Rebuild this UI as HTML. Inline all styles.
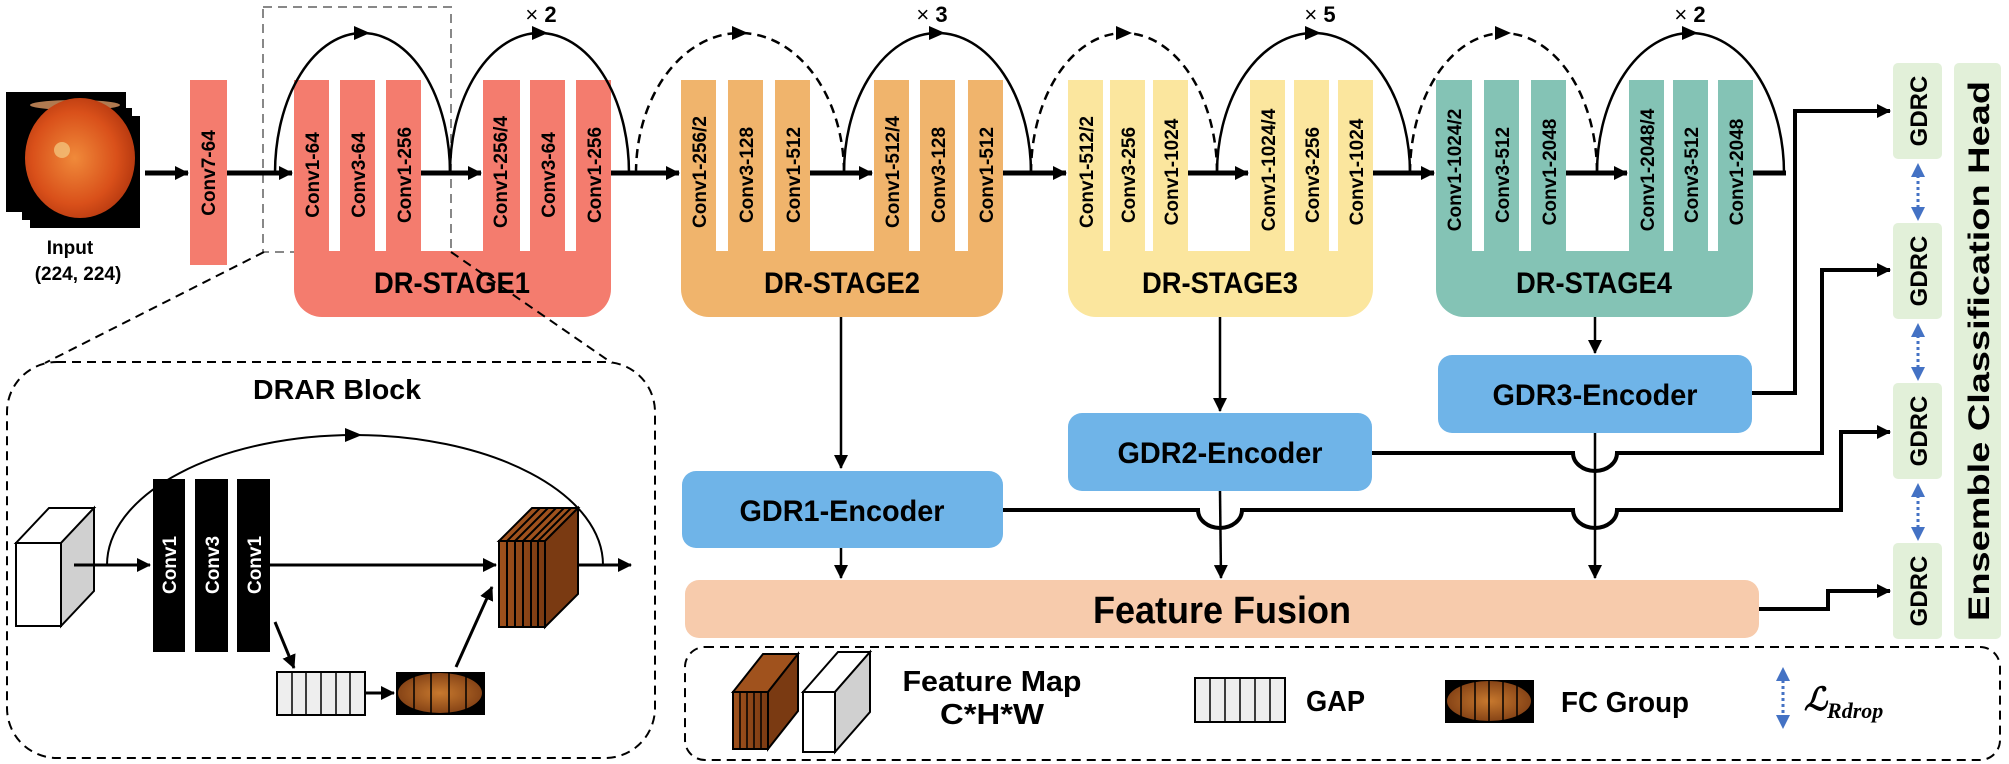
<!DOCTYPE html>
<html><head><meta charset="utf-8"><style>
html,body{margin:0;padding:0;background:#fff;}
svg{display:block;}
text{font-family:"Liberation Sans",sans-serif;font-weight:bold;fill:#000;}
</style></head><body>
<svg width="2009" height="764" viewBox="0 0 2009 764" xmlns="http://www.w3.org/2000/svg">
<defs>
<marker id="ahb" markerWidth="14" markerHeight="14" refX="13" refY="7" orient="auto" markerUnits="userSpaceOnUse" viewBox="0 0 14 14"><path d="M0,0 L14,7 L0,14z" fill="#000"/></marker>
<radialGradient id="eye" cx="0.45" cy="0.5" r="0.55"><stop offset="0" stop-color="#f08a3a"/><stop offset="0.7" stop-color="#d9501a"/><stop offset="1" stop-color="#b83a10"/></radialGradient>
<radialGradient id="eye2" cx="0.5" cy="0.5" r="0.6"><stop offset="0" stop-color="#c8792e"/><stop offset="1" stop-color="#7a3a12"/></radialGradient>
<linearGradient id="fm" x1="0" x2="1"><stop offset="0" stop-color="#a0521d"/><stop offset="1" stop-color="#7a3a12"/></linearGradient>
</defs>

<rect x="30" y="116" width="110" height="112" fill="#000"/>
<rect x="22" y="108" width="110" height="112" fill="#000"/>
<rect x="14" y="100" width="110" height="112" fill="#000"/>
<rect x="6" y="92" width="120" height="120" fill="#000"/>
<ellipse cx="75" cy="105" rx="45" ry="5" fill="#b07a50"/>
<ellipse cx="80" cy="158" rx="55" ry="60" fill="url(#eye)"/>
<circle cx="62" cy="150" r="8" fill="#f2c27a" opacity="0.8"/>
<text x="70" y="254" font-size="19" text-anchor="middle">Input</text>
<text x="78" y="280" font-size="19" text-anchor="middle">(224, 224)</text>

<rect x="263" y="7" width="188" height="245" fill="none" stroke="#888" stroke-width="2" stroke-dasharray="9,6"/>

<rect x="190" y="80" width="37" height="185" fill="#f47c6e"/>
<text transform="translate(209,173) rotate(-90)" dy="6" font-size="19" text-anchor="middle">Conv7-64</text>

<path d="M294,80 h35 v171 h11 v-171 h35 v171 h11 v-171 h35 v171 h62 v-171 h37 v171 h10 v-171 h35 v171 h11 v-171 h35 v209 a28,28 0 0 1 -28,28 h-261 a28,28 0 0 1 -28,-28z" fill="#f47c6e"/>
<path d="M681,80 h35 v171 h12 v-171 h35 v171 h12 v-171 h35 v171 h64 v-171 h35 v171 h11 v-171 h35 v171 h13 v-171 h35 v209 a28,28 0 0 1 -28,28 h-266 a28,28 0 0 1 -28,-28z" fill="#f0b46c"/>
<path d="M1068,80 h35 v171 h7 v-171 h35 v171 h8 v-171 h35 v171 h62 v-171 h35 v171 h9 v-171 h35 v171 h9 v-171 h35 v209 a28,28 0 0 1 -28,28 h-249 a28,28 0 0 1 -28,-28z" fill="#fbe69e"/>
<path d="M1436,80 h36 v171 h12 v-171 h35 v171 h12 v-171 h35 v171 h63 v-171 h35 v171 h9 v-171 h35 v171 h10 v-171 h35 v209 a28,28 0 0 1 -28,28 h-261 a28,28 0 0 1 -28,-28z" fill="#84c3b5"/>

<g font-size="19">
<text transform="translate(312,175) rotate(-90)" dy="7" text-anchor="middle">Conv1-64</text>
<text transform="translate(358,175) rotate(-90)" dy="7" text-anchor="middle">Conv3-64</text>
<text transform="translate(404,175) rotate(-90)" dy="7" text-anchor="middle">Conv1-256</text>
<text transform="translate(500,172) rotate(-90)" dy="7" text-anchor="middle">Conv1-256/4</text>
<text transform="translate(548,175) rotate(-90)" dy="7" text-anchor="middle">Conv3-64</text>
<text transform="translate(594,175) rotate(-90)" dy="7" text-anchor="middle">Conv1-256</text>

<text transform="translate(699,172) rotate(-90)" dy="7" text-anchor="middle">Conv1-256/2</text>
<text transform="translate(746,175) rotate(-90)" dy="7" text-anchor="middle">Conv3-128</text>
<text transform="translate(793,175) rotate(-90)" dy="7" text-anchor="middle">Conv1-512</text>
<text transform="translate(892,172) rotate(-90)" dy="7" text-anchor="middle">Conv1-512/4</text>
<text transform="translate(938,175) rotate(-90)" dy="7" text-anchor="middle">Conv3-128</text>
<text transform="translate(986,175) rotate(-90)" dy="7" text-anchor="middle">Conv1-512</text>

<text transform="translate(1086,172) rotate(-90)" dy="7" text-anchor="middle">Conv1-512/2</text>
<text transform="translate(1128,175) rotate(-90)" dy="7" text-anchor="middle">Conv3-256</text>
<text transform="translate(1171,172) rotate(-90)" dy="7" text-anchor="middle">Conv1-1024</text>
<text transform="translate(1268,170) rotate(-90)" dy="7" text-anchor="middle">Conv1-1024/4</text>
<text transform="translate(1312,175) rotate(-90)" dy="7" text-anchor="middle">Conv3-256</text>
<text transform="translate(1356,172) rotate(-90)" dy="7" text-anchor="middle">Conv1-1024</text>

<text transform="translate(1454,170) rotate(-90)" dy="7" text-anchor="middle">Conv1-1024/2</text>
<text transform="translate(1502,175) rotate(-90)" dy="7" text-anchor="middle">Conv3-512</text>
<text transform="translate(1549,172) rotate(-90)" dy="7" text-anchor="middle">Conv1-2048</text>
<text transform="translate(1647,170) rotate(-90)" dy="7" text-anchor="middle">Conv1-2048/4</text>
<text transform="translate(1691,175) rotate(-90)" dy="7" text-anchor="middle">Conv3-512</text>
<text transform="translate(1736,172) rotate(-90)" dy="7" text-anchor="middle">Conv1-2048</text>
</g>

<g font-size="30" text-anchor="middle">
<text x="452" y="293" textLength="156" lengthAdjust="spacingAndGlyphs">DR-STAGE1</text>
<text x="842" y="293" textLength="156" lengthAdjust="spacingAndGlyphs">DR-STAGE2</text>
<text x="1220" y="293" textLength="156" lengthAdjust="spacingAndGlyphs">DR-STAGE3</text>
<text x="1594" y="293" textLength="156" lengthAdjust="spacingAndGlyphs">DR-STAGE4</text>
</g>

<g stroke="#000" stroke-width="5" fill="none">
<line x1="145" y1="173" x2="188" y2="173" marker-end="url(#ahb)"/>
<line x1="227" y1="173" x2="292" y2="173" marker-end="url(#ahb)"/>
<line x1="421" y1="173" x2="481" y2="173" marker-end="url(#ahb)"/>
<line x1="611" y1="173" x2="679" y2="173" marker-end="url(#ahb)"/>
<line x1="810" y1="173" x2="872" y2="173" marker-end="url(#ahb)"/>
<line x1="1003" y1="173" x2="1066" y2="173" marker-end="url(#ahb)"/>
<line x1="1188" y1="173" x2="1248" y2="173" marker-end="url(#ahb)"/>
<line x1="1373" y1="173" x2="1434" y2="173" marker-end="url(#ahb)"/>
<line x1="1566" y1="173" x2="1627" y2="173" marker-end="url(#ahb)"/>
<line x1="1753" y1="173" x2="1786" y2="173"/>
</g>

<g stroke="#000" stroke-width="2.5" fill="none">
<path d="M275,173 A87.5,140 0 0 1 450,173"/>
<path d="M450,173 A89.5,140 0 0 1 629,173"/>
<path d="M636,173 A104,140 0 0 1 844,173" stroke-dasharray="9,6"/>
<path d="M844,173 A93.5,140 0 0 1 1031,173"/>
<path d="M1031,173 A93,140 0 0 1 1217,173" stroke-dasharray="9,6"/>
<path d="M1217,173 A96.5,140 0 0 1 1410,173"/>
<path d="M1410,173 A93.5,140 0 0 1 1597,173" stroke-dasharray="9,6"/>
<path d="M1597,173 A93.5,140 0 0 1 1784,173"/>
</g>
<g fill="#000">
<path d="M354,26 L370,33 L354,40z"/>
<path d="M532,26 L548,33 L532,40z"/>
<path d="M732,26 L748,33 L732,40z"/>
<path d="M929,26 L945,33 L929,40z"/>
<path d="M1116,26 L1132,33 L1116,40z"/>
<path d="M1305,26 L1321,33 L1305,40z"/>
<path d="M1495,26 L1511,33 L1495,40z"/>
<path d="M1682,26 L1698,33 L1682,40z"/>
</g>
<g font-size="22" text-anchor="middle">
<text x="541" y="22"><tspan font-weight="normal">×</tspan> 2</text>
<text x="932" y="22"><tspan font-weight="normal">×</tspan> 3</text>
<text x="1320" y="22"><tspan font-weight="normal">×</tspan> 5</text>
<text x="1690" y="22"><tspan font-weight="normal">×</tspan> 2</text>
</g>

<g stroke="#000" stroke-width="2" stroke-dasharray="9,6" fill="none">
<line x1="264" y1="252" x2="45" y2="363"/>
<line x1="451" y1="252" x2="612" y2="363"/>
<rect x="7" y="362" width="648" height="396" rx="50" ry="50"/>
</g>
<text x="337" y="399" font-size="28" text-anchor="middle" textLength="168" lengthAdjust="spacingAndGlyphs">DRAR Block</text>

<polygon points="16,543 61,543 94,508 49,508" fill="#fff" stroke="#000" stroke-width="2"/>
<polygon points="61,543 94,508 94,591 61,626" fill="#d0d0d0" stroke="#000" stroke-width="2"/>
<rect x="16" y="543" width="45" height="83" fill="#fff" stroke="#000" stroke-width="2"/>
<path d="M107,565 A248,130 0 0 1 603,565" stroke="#000" stroke-width="2" fill="none"/>
<path d="M345,428 L362,435 L345,442z" fill="#000"/>
<rect x="153" y="479" width="32" height="173" fill="#000"/>
<rect x="195" y="479" width="33" height="173" fill="#000"/>
<rect x="237" y="479" width="33" height="173" fill="#000"/>
<text transform="translate(169,565) rotate(-90)" dy="7" font-size="19" text-anchor="middle" style="fill:#fff">Conv1</text>
<text transform="translate(212,565) rotate(-90)" dy="7" font-size="19" text-anchor="middle" style="fill:#fff">Conv3</text>
<text transform="translate(254,565) rotate(-90)" dy="7" font-size="19" text-anchor="middle" style="fill:#fff">Conv1</text>
<g stroke="#000" stroke-width="3" fill="none">
<line x1="74" y1="565" x2="150" y2="565" marker-end="url(#ahb)"/>
<line x1="270" y1="565" x2="496" y2="565" marker-end="url(#ahb)"/>
<line x1="566" y1="565" x2="631" y2="565" marker-end="url(#ahb)"/>
<line x1="275" y1="622" x2="294" y2="668" marker-end="url(#ahb)"/>
<line x1="365" y1="693" x2="394" y2="693" marker-end="url(#ahb)"/>
<line x1="456" y1="667" x2="492" y2="587" marker-end="url(#ahb)"/>
</g>
<polygon points="499,541 532,508 578,508 545,541" fill="#a0521d" stroke="#000" stroke-width="2"/>
<polygon points="545,541 578,508 578,594 545,627" fill="#7a3a12" stroke="#000" stroke-width="2"/>
<rect x="499" y="541" width="46" height="86" fill="url(#fm)" stroke="#000" stroke-width="2"/>
<g stroke="#000" stroke-width="2"><line x1="507" y1="541" x2="507" y2="627"/><line x1="515" y1="541" x2="515" y2="627"/><line x1="523" y1="541" x2="523" y2="627"/><line x1="531" y1="541" x2="531" y2="627"/><line x1="538" y1="541" x2="538" y2="627"/>
<line x1="507" y1="541" x2="540" y2="508"/><line x1="515" y1="541" x2="548" y2="508"/><line x1="523" y1="541" x2="556" y2="508"/><line x1="531" y1="541" x2="564" y2="508"/><line x1="538" y1="541" x2="571" y2="508"/></g>
<rect x="277" y="672" width="88" height="43" fill="#eee" stroke="#000" stroke-width="2"/>
<g stroke="#000" stroke-width="1.5"><line x1="292" y1="672" x2="292" y2="715"/><line x1="306" y1="672" x2="306" y2="715"/><line x1="321" y1="672" x2="321" y2="715"/><line x1="336" y1="672" x2="336" y2="715"/><line x1="350" y1="672" x2="350" y2="715"/></g>
<rect x="396" y="672" width="89" height="43" fill="#000"/>
<ellipse cx="440" cy="693" rx="42" ry="20" fill="url(#eye2)"/>
<g stroke="#000" stroke-width="1.5"><line x1="414" y1="672" x2="414" y2="715"/><line x1="431" y1="672" x2="431" y2="715"/><line x1="449" y1="672" x2="449" y2="715"/><line x1="466" y1="672" x2="466" y2="715"/></g>

<rect x="682" y="471" width="321" height="77" rx="14" fill="#6fb4e8"/>
<rect x="1068" y="413" width="304" height="78" rx="14" fill="#6fb4e8"/>
<rect x="1438" y="355" width="314" height="78" rx="14" fill="#6fb4e8"/>
<g font-size="30" text-anchor="middle">
<text x="842" y="521" textLength="205" lengthAdjust="spacingAndGlyphs">GDR1-Encoder</text>
<text x="1220" y="463" textLength="205" lengthAdjust="spacingAndGlyphs">GDR2-Encoder</text>
<text x="1595" y="405" textLength="205" lengthAdjust="spacingAndGlyphs">GDR3-Encoder</text>
</g>

<rect x="685" y="580" width="1074" height="58" rx="14" fill="#f7cbac"/>
<text x="1222" y="623" font-size="38" text-anchor="middle" textLength="258" lengthAdjust="spacingAndGlyphs">Feature Fusion</text>

<g stroke="#000" stroke-width="2.5" fill="none">
<line x1="841" y1="317" x2="841" y2="468" marker-end="url(#ahb)"/>
<line x1="1220" y1="317" x2="1220" y2="411" marker-end="url(#ahb)"/>
<line x1="1595" y1="317" x2="1595" y2="353" marker-end="url(#ahb)"/>
<line x1="841" y1="548" x2="841" y2="578" marker-end="url(#ahb)"/>
<line x1="1220" y1="491" x2="1221" y2="578" marker-end="url(#ahb)"/>
<line x1="1595" y1="433" x2="1595" y2="578" marker-end="url(#ahb)"/>
</g>
<g stroke="#000" stroke-width="4" fill="none">
<path d="M1003,510 H1198 A22,18 0 0 0 1242,510 H1573 A22,18 0 0 0 1617,510 H1841 V432 H1890" marker-end="url(#ahb)"/>
<path d="M1372,453 H1573 A22,18 0 0 0 1617,453 H1822 V270 H1890" marker-end="url(#ahb)"/>
<path d="M1752,393 H1795 V111 H1890" marker-end="url(#ahb)"/>
<path d="M1759,609 H1828 V591 H1890" marker-end="url(#ahb)"/>
</g>

<g fill="#e2f0d9">
<rect x="1893" y="63" width="49" height="96" rx="5"/>
<rect x="1893" y="223" width="49" height="96" rx="5"/>
<rect x="1893" y="383" width="49" height="96" rx="5"/>
<rect x="1893" y="543" width="49" height="96" rx="5"/>
<rect x="1954" y="63" width="47" height="576" rx="5"/>
</g>
<g font-size="24" text-anchor="middle">
<text transform="translate(1918,111) rotate(-90)" dy="9">GDRC</text>
<text transform="translate(1918,271) rotate(-90)" dy="9">GDRC</text>
<text transform="translate(1918,431) rotate(-90)" dy="9">GDRC</text>
<text transform="translate(1918,591) rotate(-90)" dy="9">GDRC</text>
<text transform="translate(1978,351) rotate(-90)" dy="11" font-size="30" textLength="540" lengthAdjust="spacingAndGlyphs">Ensemble Classification Head</text>
</g>
<g stroke="#4472c4" stroke-width="3" stroke-dasharray="3,3" fill="none">
<line x1="1918" y1="175" x2="1918" y2="209"/>
<line x1="1918" y1="335" x2="1918" y2="369"/>
<line x1="1918" y1="495" x2="1918" y2="529"/>
<line x1="1783" y1="680" x2="1783" y2="716"/>
</g>
<g fill="#4472c4">
<path d="M1911,177 L1918,163 L1925,177z"/><path d="M1911,207 L1918,221 L1925,207z"/>
<path d="M1911,337 L1918,323 L1925,337z"/><path d="M1911,367 L1918,381 L1925,367z"/>
<path d="M1911,497 L1918,483 L1925,497z"/><path d="M1911,527 L1918,541 L1925,527z"/>
<path d="M1776,681 L1783,667 L1790,681z"/><path d="M1776,715 L1783,729 L1790,715z"/>
</g>

<rect x="685" y="647" width="1315" height="113" rx="20" fill="none" stroke="#000" stroke-width="2" stroke-dasharray="9,6"/>
<polygon points="733,692 763,654 798,654 768,692" fill="#a0521d" stroke="#000" stroke-width="2"/>
<polygon points="768,692 798,654 798,711 768,749" fill="#7a3a12" stroke="#000" stroke-width="2"/>
<rect x="733" y="692" width="35" height="57" fill="url(#fm)" stroke="#000" stroke-width="2"/>
<g stroke="#000" stroke-width="1.5"><line x1="740" y1="692" x2="740" y2="749"/><line x1="747" y1="692" x2="747" y2="749"/><line x1="754" y1="692" x2="754" y2="749"/><line x1="761" y1="692" x2="761" y2="749"/></g>
<polygon points="803,692 838,652 870,652 835,692" fill="#fff" stroke="#000" stroke-width="2"/>
<polygon points="835,692 870,652 870,712 835,752" fill="#d0d0d0" stroke="#000" stroke-width="2"/>
<rect x="803" y="692" width="32" height="60" fill="#fff" stroke="#000" stroke-width="2"/>
<g font-size="29" text-anchor="middle">
<text x="992" y="691" textLength="179" lengthAdjust="spacingAndGlyphs">Feature Map</text>
<text x="992" y="724" textLength="104" lengthAdjust="spacingAndGlyphs">C*H*W</text>
</g>
<rect x="1195" y="678" width="90" height="44" fill="#eee" stroke="#000" stroke-width="2"/>
<g stroke="#000" stroke-width="1.5"><line x1="1210" y1="678" x2="1210" y2="722"/><line x1="1225" y1="678" x2="1225" y2="722"/><line x1="1240" y1="678" x2="1240" y2="722"/><line x1="1255" y1="678" x2="1255" y2="722"/><line x1="1270" y1="678" x2="1270" y2="722"/></g>
<text x="1306" y="711" font-size="29" textLength="59" lengthAdjust="spacingAndGlyphs">GAP</text>
<rect x="1445" y="680" width="89" height="43" fill="#000"/>
<ellipse cx="1489" cy="701" rx="42" ry="20" fill="url(#eye2)"/>
<g stroke="#000" stroke-width="1.5"><line x1="1461" y1="680" x2="1461" y2="723"/><line x1="1475" y1="680" x2="1475" y2="723"/><line x1="1489" y1="680" x2="1489" y2="723"/><line x1="1503" y1="680" x2="1503" y2="723"/><line x1="1517" y1="680" x2="1517" y2="723"/></g>
<text x="1561" y="712" font-size="29" textLength="128" lengthAdjust="spacingAndGlyphs">FC Group</text>
<text x="1804" y="710" font-size="32" font-style="italic" style="font-family:'Liberation Serif',serif">ℒ<tspan font-size="22" dy="8">Rdrop</tspan></text>
</svg>
</body></html>
